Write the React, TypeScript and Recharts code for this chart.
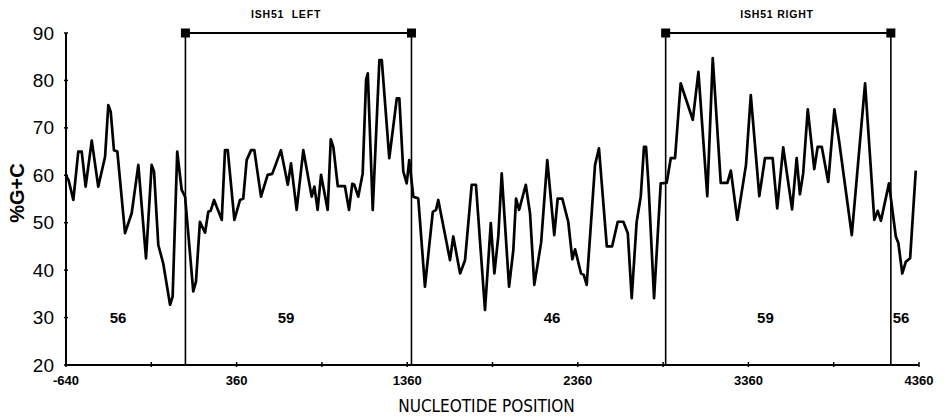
import { LineChart, Line, XAxis, YAxis, ReferenceLine, ReferenceDot } from 'recharts';

const positions = [
  -640, -625, -597, -568, -548, -525, -489, -451, -411, -392, -378, -359, -339, -294, -255, -216,
  -171, -138, -124, -99, -70, -30, -15, 12, 38, 58, 106, 122, 145, 175, 194, 208,
  228, 273, 292, 308, 347, 380, 399, 419, 445, 464, 503, 542, 569, 620,
  660, 679, 712, 751, 800, 816, 835, 855, 894, 912, 927, 953, 995, 1019, 1038, 1050,
  1073, 1099, 1119, 1129, 1158, 1197, 1211, 1255, 1299, 1314, 1337, 1357, 1372, 1396, 1425, 1464,
  1510, 1529, 1542, 1611, 1630, 1670, 1699, 1738, 1763, 1816, 1850, 1871, 1894, 1914, 1957, 1982,
  1998, 2016, 2055, 2080, 2105, 2145, 2181, 2222, 2242, 2269, 2304, 2328, 2344, 2379, 2395, 2412,
  2461, 2484, 2530, 2561, 2594, 2627, 2653, 2676, 2705, 2729, 2748, 2760, 2774, 2807, 2846, 2881,
  2905, 2930, 2963, 3034, 3067, 3119, 3151, 3198, 3237, 3257, 3295, 3346, 3374, 3424, 3457, 3502,
  3529, 3564, 3616, 3643, 3662, 3681, 3708, 3746, 3766, 3790, 3828, 3864, 3891, 3966, 4044, 4098,
  4118, 4137, 4184, 4224, 4239, 4262, 4283, 4308, 4341,
];

const gcPercent = [
  60, 59, 54.8, 65, 65, 57.6, 67.3, 57.6, 63.9, 74.8, 73.4, 65.3, 65, 47.8, 52, 62.2,
  42.5, 62.2, 60.8, 45.3, 41.4, 32.7, 34.4, 65, 56.9, 55.5, 35.5, 37.6, 50.2, 47.9, 52.3, 52.5,
  54.8, 50.6, 65.3, 65.3, 50.6, 54.8, 55.1, 63.2, 65.3, 65.3, 55.5, 60.1, 60.3, 65.3,
  58, 62.5, 52.7, 65.3, 55.5, 57.6, 52.7, 60.1, 52.7, 67.6, 66, 57.7, 57.7, 52.7, 58.2, 58,
  55.5, 60.4, 80.1, 81.5, 52.7, 84.3, 84.3, 63.6, 76.2, 76.2, 60.8, 58.3, 63.2, 55.5, 55.1, 36.5,
  52.3, 52.7, 54.8, 42.1, 47.1, 39.3, 42.1, 58, 58, 31.6, 49.9, 39.3, 47.1, 60.4, 36.5, 44.2,
  55.1, 52.7, 58, 52, 36.9, 45.8, 63.2, 47.4, 55.1, 55.1, 50.2, 42.3, 44.4, 39.3, 39, 36.9,
  62.2, 65.7, 45, 45, 50.2, 50.2, 47.8, 34.1, 50.2, 55.5, 66, 66, 58.3, 34.1, 58.3, 58.4,
  63.6, 63.6, 79.4, 71.7, 81.8, 55.6, 84.7, 58.4, 58.4, 61, 50.6, 62.2, 76.9, 55.6, 63.6, 63.6,
  53, 65.9, 52.8, 63.6, 56, 60.4, 73.9, 61.3, 66, 66, 58.6, 73.9, 67.4, 47.4, 79.4, 50.6,
  52.5, 50.4, 58.3, 47.1, 45.7, 39.3, 41.8, 42.5, 61,
];

const xTicks = [-640, -140, 360, 860, 1360, 1860, 2360, 2860, 3360, 3860, 4360];
const xTickLabels = ['-640', '', '360', '', '1360', '', '2360', '', '3360', '', '4360'];
const yTicks = [20, 30, 40, 50, 60, 70, 80, 90];

// ISH51 element boundaries
const elementStart = [60, 2875];
const elementEnd = [1385, 4195];
const elementNames = ['ISH51  LEFT', 'ISH51 RIGHT'];
const elementNameX = [650, 3528];

// average %G+C per region
const regionValues = ['56', '59', '46', '59', '56'];
const regionX = [-335, 650, 2209, 3460, 4255];
const regionY = 30;

const data = positions.map((x, i) => ({ x, gc: gcPercent[i] }));

const FONT = '"Liberation Sans", "DejaVu Sans", sans-serif';

function XTick(props: any) {
  const { x, y, payload } = props;
  const label = xTickLabels[xTicks.indexOf(payload.value)];
  return (
    <g>
      <line x1={x} x2={x} y1={y} y2={y - 5} stroke="#000" strokeWidth={1.5} />
      {label && (
        <text x={x} y={y + 18} textAnchor="middle" fontSize={13} fontWeight="bold" fontFamily={FONT} fill="#000">
          {label}
        </text>
      )}
    </g>
  );
}

function YTick(props: any) {
  const { x, y, payload } = props;
  return (
    <g>
      <line x1={x} x2={x + 4} y1={y} y2={y} stroke="#000" strokeWidth={1.5} />
      <text x={x - 10} y={y} textAnchor="end" dominantBaseline="central" fontSize={19} fontFamily={FONT} fill="#000">
        {payload.value}
      </text>
    </g>
  );
}

const squareShape = (p: any) => <rect x={p.cx - 4.5} y={p.cy - 4.5} width={9} height={9} fill="#000" />;

export default function App() {
  return (
    <div style={{ position: 'absolute', left: 0, top: 0, background: '#fff' }}>
      <LineChart width={944} height={416} data={data} margin={{ top: 33, right: 25, bottom: 0, left: 0 }}>
        <XAxis
          type="number"
          dataKey="x"
          domain={[-640, 4360]}
          ticks={xTicks}
          interval={0}
          tickSize={0}
          tickLine={false}
          tick={<XTick />}
          height={51}
          axisLine={{ stroke: '#000', strokeWidth: 2 }}
          label={{
            content: (p: any) => (
              <text
                x={p.viewBox.x + p.viewBox.width / 2 - 6}
                y={p.viewBox.y + 47}
                textAnchor="middle"
                fontSize={17}
                fontFamily='"DejaVu Sans Condensed", "DejaVu Sans", sans-serif'
                fill="#000"
              >
                NUCLEOTIDE POSITION
              </text>
            ),
          }}
        />
        <YAxis
          type="number"
          domain={[20, 90]}
          ticks={yTicks}
          interval={0}
          tickSize={0}
          tickLine={false}
          tick={<YTick />}
          width={66}
          axisLine={{ stroke: '#000', strokeWidth: 2 }}
          label={{
            content: (p: any) => {
              const cx = p.viewBox.x + 17;
              const cy = p.viewBox.y + p.viewBox.height / 2 - 6;
              return (
                <text
                  x={cx}
                  y={cy}
                  transform={`rotate(-90 ${cx} ${cy})`}
                  textAnchor="middle"
                  dominantBaseline="central"
                  fontSize={20}
                  fontWeight="bold"
                  fontFamily={FONT}
                  fill="#000"
                >
                  %G+C
                </text>
              );
            },
          }}
        />

        {elementStart.map((s, i) => (
          <ReferenceLine key={`s${i}`} x={s} stroke="#000" strokeWidth={1.6} />
        ))}
        {elementEnd.map((e, i) => (
          <ReferenceLine key={`e${i}`} x={e} stroke="#000" strokeWidth={1.6} />
        ))}
        {elementStart.map((s, i) => (
          <ReferenceLine
            key={`b${i}`}
            segment={[
              { x: s, y: 90 },
              { x: elementEnd[i], y: 90 },
            ]}
            stroke="#000"
            strokeWidth={1.8}
          />
        ))}
        {elementStart.map((s, i) => (
          <ReferenceDot key={`qs${i}`} x={s} y={90} shape={squareShape} />
        ))}
        {elementEnd.map((e, i) => (
          <ReferenceDot key={`qe${i}`} x={e} y={90} shape={squareShape} />
        ))}
        {elementNames.map((name, i) => (
          <ReferenceDot
            key={`n${i}`}
            x={elementNameX[i]}
            y={90}
            shape={(p: any) => (
              <text
                x={p.cx}
                y={p.cy - 15}
                textAnchor="middle"
                fontSize={10.5}
                fontWeight="bold"
                letterSpacing={0.8}
                fontFamily={FONT}
                fill="#000"
                style={{ whiteSpace: 'pre' }}
              >
                {name}
              </text>
            )}
          />
        ))}
        {regionValues.map((v, i) => (
          <ReferenceDot
            key={`r${i}`}
            x={regionX[i]}
            y={regionY}
            shape={(p: any) => (
              <text
                x={p.cx}
                y={p.cy}
                textAnchor="middle"
                dominantBaseline="central"
                fontSize={15}
                fontWeight="bold"
                fontFamily={FONT}
                fill="#000"
              >
                {v}
              </text>
            )}
          />
        ))}

        <Line
          type="linear"
          dataKey="gc"
          stroke="#000"
          strokeWidth={2.7}
          strokeLinejoin="round"
          dot={false}
          isAnimationActive={false}
        />
      </LineChart>
    </div>
  );
}
